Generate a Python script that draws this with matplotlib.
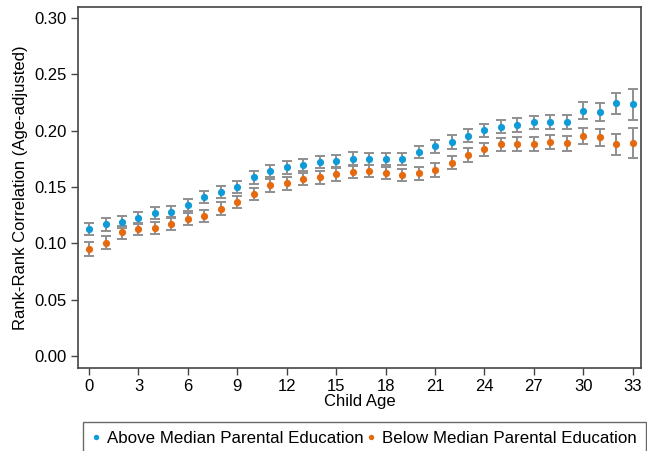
import numpy as np
import matplotlib.pyplot as plt

plt.rcParams['font.family'] = ['Liberation Sans', 'DejaVu Sans']

# child age and rank-rank correlations
ages = list(range(34))
above = [0.1127, 0.1168, 0.1189, 0.1228, 0.1266, 0.1278, 0.1343, 0.1408, 0.1452, 0.1502,
         0.1585, 0.1644, 0.1673, 0.1698, 0.1719, 0.1734, 0.1752, 0.1748, 0.1750, 0.1750,
         0.1810, 0.1861, 0.1899, 0.1955, 0.2002, 0.2035, 0.2050, 0.2073, 0.2076, 0.2076,
         0.2177, 0.2168, 0.2242, 0.2233]
below = [0.0949, 0.1006, 0.1097, 0.1127, 0.1136, 0.1174, 0.1215, 0.1242, 0.1307, 0.1366,
         0.1437, 0.1514, 0.1532, 0.1571, 0.1585, 0.1611, 0.1633, 0.1642, 0.1624, 0.1606,
         0.1620, 0.1650, 0.1717, 0.1784, 0.1834, 0.1879, 0.1879, 0.1879, 0.1896, 0.1887,
         0.1952, 0.1940, 0.1879, 0.1890]
# half-width of the confidence intervals
above_err = [0.0056, 0.0055, 0.0055, 0.0054, 0.0054, 0.0054, 0.0054, 0.0054, 0.0054, 0.0054,
             0.0054, 0.0054, 0.0054, 0.0054, 0.0054, 0.0054, 0.0055, 0.0055, 0.0055, 0.0055,
             0.0056, 0.0057, 0.0058, 0.0058, 0.0058, 0.0058, 0.0059, 0.0060, 0.0062, 0.0063,
             0.0077, 0.0080, 0.0095, 0.0140]
below_err = [0.0060, 0.0058, 0.0057, 0.0056, 0.0056, 0.0056, 0.0056, 0.0056, 0.0056, 0.0056,
             0.0056, 0.0056, 0.0056, 0.0056, 0.0056, 0.0056, 0.0056, 0.0056, 0.0057, 0.0057,
             0.0058, 0.0059, 0.0059, 0.0060, 0.0060, 0.0060, 0.0061, 0.0062, 0.0063, 0.0064,
             0.0074, 0.0077, 0.0092, 0.0133]

blue = '#0e9bd8'
orange = '#e5690e'
grey = '#8f8f8f'

fig = plt.figure(figsize=(6.47, 4.51), dpi=100)
ax = fig.add_axes([0.1206, 0.184, 0.8701, 0.8005])

for y, e, c, lab in [(above, above_err, blue, 'Above Median Parental Education'),
                     (below, below_err, orange, 'Below Median Parental Education')]:
    ax.errorbar(ages, y, yerr=e, fmt='none', ecolor=grey, elinewidth=1.4,
                capsize=3.6, capthick=1.4, zorder=2)
    ax.plot(ages, y, 'o', color=c, markersize=5.2, markeredgewidth=0, zorder=3, label=lab)

ax.set_xlim(-0.67, 33.5)
ax.set_ylim(-0.0106, 0.3097)
ax.set_xticks(range(0, 34, 3))
ax.set_yticks(np.arange(0, 0.31, 0.05))
ax.set_yticklabels(['%.2f' % v for v in np.arange(0, 0.31, 0.05)])
ax.tick_params(labelsize=12, length=5, width=1, color='#444444', pad=3)
for s in ax.spines.values():
    s.set_color('#444444')
    s.set_linewidth(1.2)
ax.set_xlabel('Child Age', fontsize=12, labelpad=0)
ax.set_ylabel('Rank-Rank Correlation (Age-adjusted)', fontsize=12, labelpad=5)

leg = fig.legend(loc='upper left', bbox_to_anchor=(83 / 647, 1 - 422 / 451), ncol=2,
                 fontsize=12.2, frameon=True, fancybox=False, markerscale=0.75,
                 handlelength=0.4, handletextpad=0.45, columnspacing=0.25,
                 borderpad=0.55, borderaxespad=0)
leg.get_frame().set_edgecolor('#444444')
leg.get_frame().set_linewidth(1.0)

fig.savefig('out.png', dpi=100)
